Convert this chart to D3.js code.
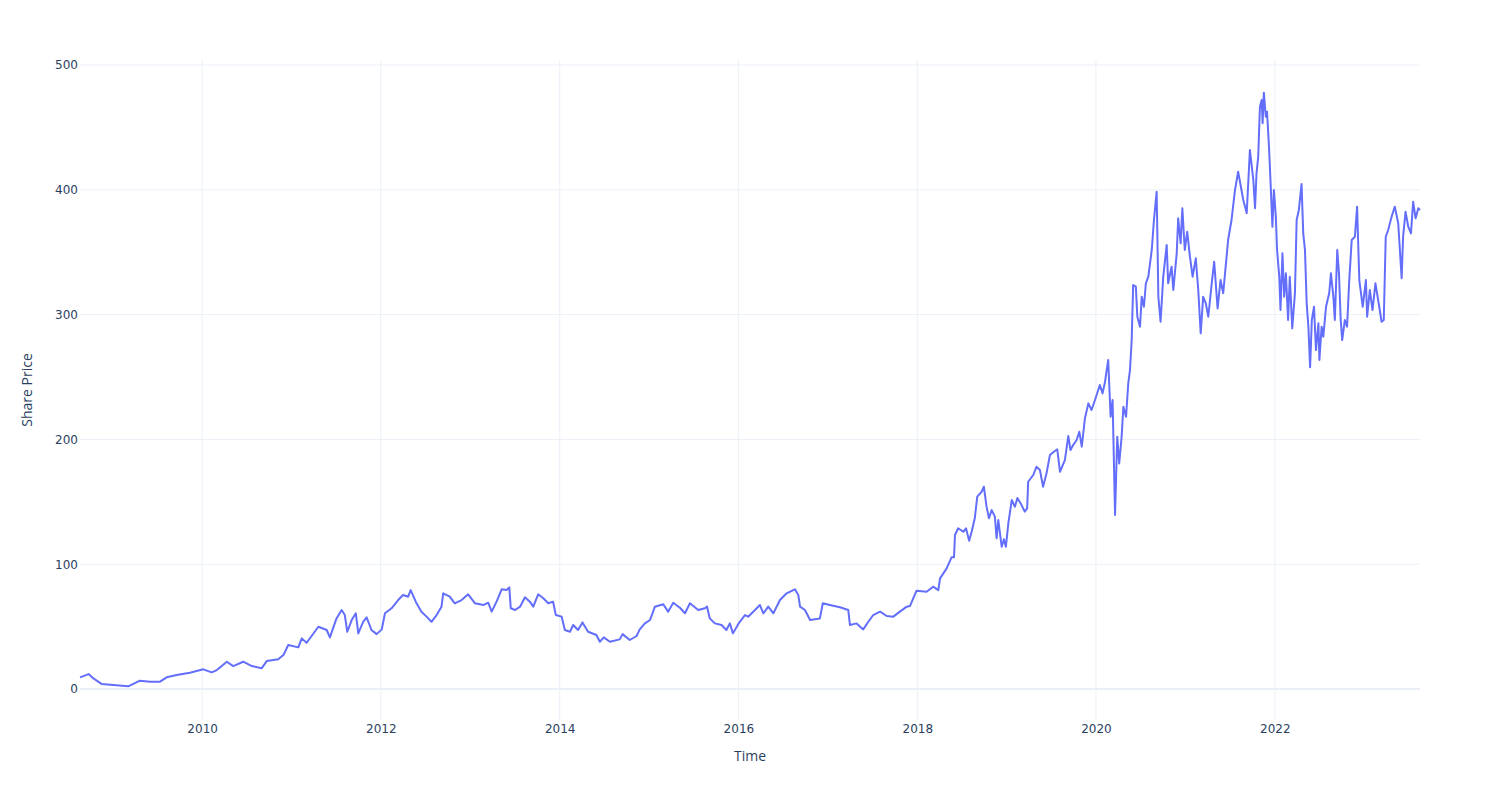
<!DOCTYPE html>
<html>
<head>
<meta charset="utf-8">
<script src="https://cdn.jsdelivr.net/npm/d3@7"></script>
<style>
  body { margin: 0; background: #fff; }
  .axis text { font-family: "DejaVu Sans", verdana, sans-serif; font-size: 12px; fill: #2a3f5f; }
  .axis path, .axis line { display: none; }
</style>
</head>
<body>
<div id="chart"></div>
<script>
// values
var dates = [
  '2008-08-20','2008-09-24','2008-10-14','2008-11-17','2009-01-03','2009-03-05','2009-04-22','2009-06-02','2009-07-13','2009-08-09',
  '2009-09-19','2009-11-12','2010-01-06','2010-02-09','2010-03-02','2010-04-12','2010-05-08','2010-06-18','2010-07-23','2010-09-01',
  '2010-09-22','2010-11-08','2010-11-29','2010-12-19','2011-01-29','2011-02-12','2011-03-04','2011-04-21','2011-05-25','2011-06-07',
  '2011-07-04','2011-07-25','2011-08-07','2011-08-17','2011-09-04','2011-09-21','2011-10-01','2011-10-21','2011-11-04','2011-11-24',
  '2011-12-15','2012-01-05','2012-01-18','2012-02-14','2012-03-12','2012-04-01','2012-04-22','2012-05-02','2012-05-26','2012-06-15',
  '2012-07-06','2012-07-26','2012-08-16','2012-09-05','2012-09-12','2012-10-09','2012-10-29','2012-11-26','2012-12-23','2013-01-20',
  '2013-02-23','2013-03-15','2013-03-29','2013-04-18','2013-05-09','2013-05-29','2013-06-09','2013-06-15','2013-07-03','2013-07-23',
  '2013-08-12','2013-09-01','2013-09-15','2013-10-05','2013-10-26','2013-11-15','2013-12-05','2013-12-16','2014-01-09','2014-01-22',
  '2014-02-12','2014-02-25','2014-03-17','2014-04-04','2014-04-27','2014-05-31','2014-06-14','2014-06-30','2014-07-25','2014-09-03',
  '2014-09-15','2014-10-14','2014-11-11','2014-11-24','2014-12-15','2015-01-05','2015-01-25','2015-02-28','2015-03-20','2015-04-10',
  '2015-05-07','2015-05-28','2015-06-17','2015-07-21','2015-08-17','2015-08-26','2015-09-06','2015-09-27','2015-10-24','2015-11-13',
  '2015-11-27','2015-12-10','2016-01-02','2016-01-28','2016-02-10','2016-03-09','2016-03-29','2016-04-12','2016-05-02','2016-05-23',
  '2016-06-19','2016-07-16','2016-08-19','2016-09-02','2016-09-09','2016-09-29','2016-10-20','2016-11-29','2016-12-11','2017-01-09',
  '2017-02-19','2017-03-25','2017-04-01','2017-04-28','2017-05-25','2017-06-15','2017-07-05','2017-08-02','2017-08-29','2017-09-25',
  '2017-10-22','2017-11-19','2017-12-02','2017-12-29','2018-02-08','2018-03-07','2018-03-28','2018-04-04','2018-05-01','2018-05-21',
  '2018-05-31','2018-06-04','2018-06-17','2018-07-08','2018-07-19','2018-08-01','2018-08-11','2018-08-24','2018-09-03','2018-09-21',
  '2018-09-30','2018-10-11','2018-10-21','2018-11-01','2018-11-14','2018-11-21','2018-11-28','2018-12-12','2018-12-21','2018-12-29',
  '2019-01-08','2019-01-22','2019-02-04','2019-02-14','2019-03-03','2019-03-16','2019-03-26','2019-03-30','2019-04-20','2019-05-03',
  '2019-05-17','2019-05-30','2019-06-13','2019-06-27','2019-07-13','2019-07-27','2019-08-07','2019-08-27','2019-09-10','2019-09-19',
  '2019-09-30','2019-10-14','2019-10-25','2019-11-04','2019-11-17','2019-12-01','2019-12-14','2019-12-28','2020-01-17','2020-01-28',
  '2020-02-07','2020-02-20','2020-03-01','2020-03-09','2020-03-19','2020-03-28','2020-04-05','2020-04-15','2020-04-22','2020-05-03',
  '2020-05-12','2020-05-19','2020-05-26','2020-06-01','2020-06-12','2020-06-18','2020-06-29','2020-07-06','2020-07-15','2020-07-23',
  '2020-08-02','2020-08-09','2020-08-16','2020-08-25','2020-09-05','2020-09-12','2020-09-21','2020-10-02','2020-10-16','2020-10-22',
  '2020-11-05','2020-11-12','2020-11-26','2020-12-02','2020-12-12','2020-12-19','2020-12-29','2021-01-08','2021-01-19','2021-01-30',
  '2021-02-12','2021-02-22','2021-03-04','2021-03-14','2021-03-25','2021-04-04','2021-04-18','2021-04-28','2021-05-12','2021-05-24',
  '2021-06-04','2021-06-14','2021-06-24','2021-07-08','2021-07-22','2021-08-04','2021-08-25','2021-09-08','2021-09-21','2021-10-05',
  '2021-10-12','2021-10-18','2021-10-25','2021-11-01','2021-11-08','2021-11-12','2021-11-17','2021-11-25','2021-11-30','2021-12-08',
  '2021-12-14','2021-12-22','2021-12-28','2022-01-05','2022-01-10','2022-01-19','2022-01-24','2022-02-01','2022-02-08','2022-02-15',
  '2022-02-24','2022-03-03','2022-03-13','2022-03-24','2022-03-31','2022-04-09','2022-04-20','2022-04-27','2022-05-04','2022-05-11',
  '2022-05-18','2022-05-25','2022-06-01','2022-06-10','2022-06-18','2022-06-28','2022-07-02','2022-07-11','2022-07-18','2022-07-29',
  '2022-08-11','2022-08-18','2022-08-28','2022-09-03','2022-09-13','2022-09-20','2022-09-27','2022-10-03','2022-10-14','2022-10-23',
  '2022-11-01','2022-11-11','2022-11-24','2022-12-03','2022-12-12','2022-12-26','2023-01-08','2023-01-13','2023-01-24','2023-02-04',
  '2023-02-16','2023-02-27','2023-03-13','2023-03-22','2023-03-30','2023-04-09','2023-04-23','2023-05-06','2023-05-20','2023-06-03',
  '2023-06-09','2023-06-19','2023-06-30','2023-07-11','2023-07-20','2023-07-30','2023-08-10','2023-08-17'
];

var prices = [
  9.4, 12, 8.5, 4, 3.2, 2.2, 6.7, 5.9, 5.9, 9.4,
  11.2, 13, 15.8, 13.4, 15.2, 21.9, 18.4, 21.9, 18.4, 16.6,
  22.4, 23.8, 27.2, 35.3, 33.4, 40.6, 37.1, 49.9, 47.3, 41.4,
  56.6, 63.3, 59.3, 45.9, 55.3, 60.7, 44.6, 53.9, 57.5, 47.3,
  44, 47.8, 60.7, 64.7, 71.3, 75.3, 74, 79.3, 68.7, 62,
  58, 53.9, 59.3, 66, 76.7, 74, 68.7, 71.3, 75.9, 68.7,
  67.3, 69.2, 62, 70, 79.9, 79.3, 81.5, 64.7, 63.3, 66,
  73.5, 70, 66, 75.9, 72.7, 68.7, 70, 59.3, 58, 47.3,
  45.9, 51.3, 47.3, 53.4, 45.9, 43.3, 37.9, 41.4, 37.9, 39.8,
  44, 39.3, 42.5, 47.8, 52.6, 55.3, 66, 67.9, 62, 69.2,
  65.1, 60.7, 68.7, 63.3, 64.7, 66, 56.6, 52.6, 51.3, 47.3,
  52.6, 44.6, 52.6, 59.3, 58, 63.3, 67.3, 60.7, 66, 60.7,
  71.3, 76.7, 79.9, 75.3, 66, 63.3, 55.3, 56.6, 68.7, 67.3,
  65.5, 63.3, 51.3, 52.6, 47.8, 53.9, 59.3, 62, 58.5, 58,
  62, 66, 66.5, 78.8, 78, 82, 79.3, 88.7, 96.7, 105.5,
  105.5, 123.4, 128.8, 126, 128.8, 118.8, 126, 136.8, 154.1, 158.1,
  162.1, 146.1, 136.8, 143.4, 138.1, 120.8, 135.4, 114, 120, 114,
  132.8, 151.4, 146.1, 153, 147.4, 142.1, 144.8, 166.1, 171.5, 178.1,
  175.5, 162.1, 172.8, 187.5, 190.1, 192.1, 174.1, 183.5, 202.7, 191.5,
  195.5, 199.5, 206.2, 194.2, 217, 228.9, 223.6, 231.6, 243.6, 236.9,
  246.2, 263.6, 218.2, 231.6, 139.4, 202.2, 180.8, 202.2, 226.2, 218.2,
  245, 255.6, 279.6, 323.7, 322.4, 298.3, 290.3, 314.3, 306.3, 325.1,
  330.4, 341.1, 351.8, 375.8, 398.5, 314.3, 294.3, 330.4, 355.8, 325.1,
  338.4, 319.7, 349.1, 377.2, 357.1, 385.2, 351.8, 366.4, 346.4, 330.4,
  345.1, 319.7, 285, 314.3, 309, 298.3, 325.1, 342.4, 305, 327.7,
  317.1, 338.4, 359.8, 375.8, 399.8, 414.5, 391.8, 381.2, 431.9, 407.9,
  385.2, 413.2, 426.5, 466.6, 472, 453.3, 477.8, 458.6, 462.6, 434.5,
  407.9, 370.4, 399.8, 378.4, 351.8, 330.4, 303.7, 349.1, 314.3, 333.1,
  295.7, 330.4, 289, 317.1, 375.8, 383.8, 404.6, 365.1, 351.8, 309,
  290.3, 257.8, 295.7, 306.3, 271.6, 293, 263.6, 290.3, 282.3, 306.3,
  317.1, 333.1, 314.3, 295.7, 351.8, 333.1, 295.7, 279.6, 295.7, 290.3,
  327.7, 359.8, 362.4, 386.5, 327.7, 306.3, 327.7, 298.3, 319.7, 303.7,
  325.1, 311.7, 294.3, 295.7, 362.4, 367.8, 378.4, 386.5, 373.2, 329.1,
  362.4, 382.5, 370.4, 365.1, 390.5, 377.2, 385.2, 383.8
];

var yTicks = [0, 100, 200, 300, 400, 500];
var xTickYears = [2010, 2012, 2014, 2016, 2018, 2020, 2022];

var width = 1500,
  height = 800;

var margin = {
  top: 60,
  right: 80,
  bottom: 80,
  left: 80
};

var parseDate = d3.timeParse('%Y-%m-%d');

var data = dates.map(function(d, i) {
  return { date: parseDate(d), price: prices[i] };
});

var svg = d3.select('#chart')
  .append('svg')
  .attr('width', width)
  .attr('height', height);

var innerW = width - margin.left - margin.right,
  innerH = height - margin.top - margin.bottom;

var g = svg.append('g')
  .attr('transform', 'translate(' + margin.left + ',' + margin.top + ')');

var xScale = d3.scaleTime()
  .domain(d3.extent(data, function(d) { return d.date; }))
  .range([0, innerW]);

var yScale = d3.scaleLinear()
  .domain([-24.8, 504])
  .range([innerH, 0]);

var xTicks = xTickYears.map(function(y) { return new Date(y, 0, 1); });

// grid lines
g.append('g')
  .selectAll('line')
  .data(xTicks)
  .enter()
  .append('line')
  .attr('x1', function(d) { return xScale(d); })
  .attr('x2', function(d) { return xScale(d); })
  .attr('y1', 0)
  .attr('y2', innerH)
  .attr('stroke', '#EBF0F8')
  .attr('stroke-width', 1);

g.append('g')
  .selectAll('line')
  .data(yTicks)
  .enter()
  .append('line')
  .attr('x1', 0)
  .attr('x2', innerW)
  .attr('y1', function(d) { return yScale(d); })
  .attr('y2', function(d) { return yScale(d); })
  .attr('stroke', '#EBF0F8')
  .attr('stroke-width', function(d) { return d === 0 ? 2 : 1; });

// axes
g.append('g')
  .attr('class', 'axis')
  .attr('transform', 'translate(0,' + innerH + ')')
  .call(d3.axisBottom(xScale)
    .tickValues(xTicks)
    .tickFormat(d3.timeFormat('%Y'))
    .tickSize(0)
    .tickPadding(4.5));

g.append('g')
  .attr('class', 'axis')
  .call(d3.axisLeft(yScale)
    .tickValues(yTicks)
    .tickSize(0)
    .tickPadding(2));

// the line
var line = d3.line()
  .x(function(d) { return xScale(d.date); })
  .y(function(d) { return yScale(d.price); });

g.append('path')
  .datum(data)
  .attr('fill', 'none')
  .attr('stroke', '#636efa')
  .attr('stroke-width', 2)
  .attr('stroke-linejoin', 'round')
  .attr('d', line);

// axis titles
svg.append('text')
  .attr('x', margin.left + innerW / 2)
  .attr('y', 761)
  .attr('text-anchor', 'middle')
  .style('font-family', '"Open Sans", verdana, arial, sans-serif')
  .style('font-size', '14px')
  .style('fill', '#2a3f5f')
  .text('Time');

svg.append('text')
  .attr('transform', 'translate(32,' + (margin.top + innerH / 2) + ') rotate(-90)')
  .attr('text-anchor', 'middle')
  .style('font-family', '"Open Sans", verdana, arial, sans-serif')
  .style('font-size', '14px')
  .style('fill', '#2a3f5f')
  .text('Share Price');
</script>
</body>
</html>
